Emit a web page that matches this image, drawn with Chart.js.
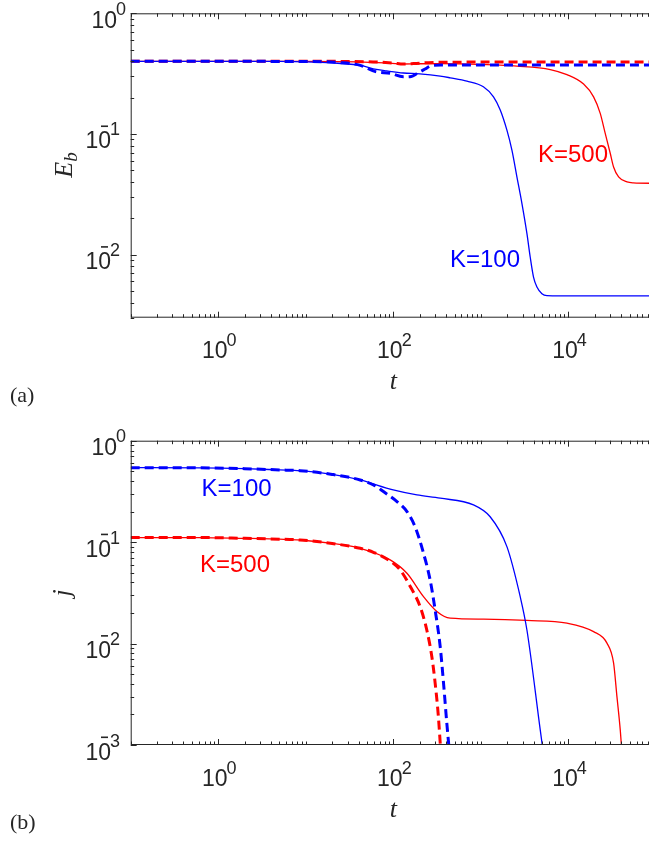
<!DOCTYPE html>
<html>
<head>
<meta charset="utf-8">
<script src="https://cdn.jsdelivr.net/npm/chart.js@4.4.1/dist/chart.umd.min.js"></script>
<style>
  html, body { margin: 0; padding: 0; background: #fff; overflow: hidden; }
  #wrap { position: relative; width: 649px; height: 842px; overflow: hidden; background: #fff; }
  canvas { position: absolute; left: 0; }
</style>
</head>
<body>
<div id="wrap">
  <canvas id="chartA" width="656" height="420" style="top:0px"></canvas>
  <canvas id="chartB" width="656" height="422" style="top:420px"></canvas>
</div>
<script>
// ---- panel (a): E_b vs t ----
var ebT_k100 = [0.1, 1, 5, 10, 20, 42, 64, 84, 130, 200, 343, 446, 692, 1067, 1393, 1663, 1982, 2261, 2578, 2943, 3357, 3657, 3990, 4365, 4977, 5680, 8000, 1e5];
var eb_k100  = [0.40, 0.40, 0.399, 0.396, 0.388, 0.37, 0.343, 0.333, 0.32, 0.315, 0.302, 0.292, 0.274, 0.246, 0.203, 0.158, 0.1075, 0.0734, 0.0441, 0.0265, 0.0149, 0.00955, 0.00652, 0.00538, 0.00474, 0.00457, 0.00455, 0.00455];
var ebT_k100d = [0.1, 10, 25, 42, 64, 92, 130, 160, 188, 230, 266, 350, 1000, 1e5];
var eb_k100d  = [0.40, 0.399, 0.39, 0.37, 0.327, 0.318, 0.298, 0.30, 0.318, 0.345, 0.366, 0.372, 0.372, 0.372];
var ebT_k500 = [0.1, 10, 40, 80, 130, 200, 350, 1067, 2578, 6200, 9610, 14890, 19370, 23070, 26300, 30060, 32760, 37390, 46650, 55000, 1e5];
var eb_k500  = [0.40, 0.40, 0.396, 0.388, 0.38, 0.382, 0.383, 0.376, 0.365, 0.342, 0.31, 0.259, 0.203, 0.148, 0.101, 0.0689, 0.0533, 0.0441, 0.040, 0.0393, 0.039];
var ebT_k500d = [0.1, 10, 50, 100, 130, 170, 250, 400, 1000, 1e5];
var eb_k500d  = [0.40, 0.40, 0.397, 0.387, 0.38, 0.383, 0.39, 0.393, 0.394, 0.394];

// ---- panel (b): j vs t ----
var jT_k100 = [0.1, 0.62, 2, 5, 8.6, 20, 41.8, 99.6, 186, 343, 823, 1276, 1982, 2812, 3355, 4766, 5500];
var j_k100  = [0.542, 0.54, 0.53, 0.515, 0.506, 0.465, 0.41, 0.327, 0.292, 0.271, 0.233, 0.178, 0.0903, 0.029, 0.0136, 0.0014, 0.00056];
var jT_k100d = [0.1, 0.62, 2, 5, 8.6, 20, 41.8, 60, 77, 110, 143, 177, 221, 263, 300, 343, 374, 408, 440];
var j_k100d  = [0.542, 0.54, 0.53, 0.515, 0.506, 0.465, 0.41, 0.365, 0.315, 0.251, 0.20, 0.142, 0.0778, 0.0424, 0.0215, 0.0093, 0.0041, 0.00164, 0.0008];
var jT_k500 = [0.1, 0.62, 2, 5, 8.6, 20, 41.8, 92, 143, 221, 314, 446, 1072, 3357, 9610, 19370, 27540, 32760, 35800, 39080, 41000];
var j_k500  = [0.111, 0.111, 0.109, 0.107, 0.105, 0.097, 0.087, 0.0668, 0.0493, 0.029, 0.0207, 0.0178, 0.0174, 0.0169, 0.0159, 0.0131, 0.0101, 0.00645, 0.003, 0.0014, 0.0008];
var jT_k500d = [0.1, 0.62, 2, 5, 8.6, 20, 41.8, 60, 92, 120, 156, 202, 241, 275, 300, 327, 350];
var j_k500d  = [0.111, 0.111, 0.109, 0.107, 0.105, 0.097, 0.087, 0.079, 0.065, 0.053, 0.0365, 0.0232, 0.0136, 0.00745, 0.0041, 0.0019, 0.0008];

var xMin = 0.1, xMax = 1e5;
var BLUE = '#0000ff', RED = '#ff0000', INK = '#262626';
var BASE_FONT = '23px "Liberation Sans", Arial, sans-serif';
var SUP_FONT = '18px "Liberation Sans", Arial, sans-serif';

function pts(ts, vs) {
  return ts.map(function (t, i) { return { x: t, y: vs[i] }; });
}

function solid(data, color) {
  return { data: data, borderColor: color, borderWidth: 1.3, pointRadius: 0,
           cubicInterpolationMode: 'monotone', fill: false };
}
function dashed(data, color) {
  return { data: data, borderColor: color, borderWidth: 3, borderDash: [9, 5],
           pointRadius: 0, cubicInterpolationMode: 'monotone', fill: false };
}

// "10" plus exponent; the minus sits over the top of the "0" like in the reference
function powLabel(ctx, exp, left, base, raise) {
  ctx.textAlign = 'left';
  ctx.textBaseline = 'alphabetic';
  ctx.font = BASE_FONT;
  var wb = ctx.measureText('10').width;
  ctx.fillText('10', left, base);
  ctx.font = SUP_FONT;
  var sb = base - raise;
  if (exp < 0) ctx.fillRect(left + wb - 10, sb - 10, 7, 1.6);
  ctx.fillText(String(Math.abs(exp)), left + wb - 1, sb);
}
function powWidth(ctx, exp) {
  ctx.font = BASE_FONT;
  var wb = ctx.measureText('10').width;
  ctx.font = SUP_FONT;
  return wb - 1 + ctx.measureText(String(Math.abs(exp))).width;
}

function framePlugin(cfg) {
  return {
    id: 'frame',
    afterDraw: function (chart) {
      var ctx = chart.ctx, a = chart.chartArea;
      var xs = chart.scales.x, ys = chart.scales.y;
      ctx.save();
      ctx.strokeStyle = INK;
      ctx.lineWidth = 1;
      ctx.strokeRect(a.left + 0.5, a.top + 0.5, a.right - a.left - 1, a.bottom - a.top - 1);

      ctx.beginPath();
      // x ticks (inward, top and bottom)
      for (var k = -1; k <= 5; k++) {
        for (var m = 1; m <= 9; m++) {
          var v = m * Math.pow(10, k);
          if (v < xMin || v > xMax) continue;
          var px = Math.round(xs.getPixelForValue(v)) + 0.5;
          var len = (m === 1 && k % 2 === 0) ? 6 : 3.5;
          ctx.moveTo(px, a.bottom); ctx.lineTo(px, a.bottom - len);
          ctx.moveTo(px, a.top); ctx.lineTo(px, a.top + len);
        }
      }
      // y ticks (inward, left and right)
      for (var k2 = -4; k2 <= 0; k2++) {
        for (var m2 = 1; m2 <= 9; m2++) {
          var v2 = m2 * Math.pow(10, k2);
          if (v2 < ys.min - 1e-12 || v2 > ys.max + 1e-12) continue;
          var py = Math.round(ys.getPixelForValue(v2)) + 0.5;
          var len2 = m2 === 1 ? 6 : 3.5;
          ctx.moveTo(a.left, py); ctx.lineTo(a.left + len2, py);
          ctx.moveTo(a.right, py); ctx.lineTo(a.right - len2, py);
        }
      }
      ctx.stroke();

      ctx.fillStyle = INK;
      // x tick labels
      cfg.xExps.forEach(function (e) {
        var px = xs.getPixelForValue(Math.pow(10, e));
        var w = powWidth(ctx, e);
        powLabel(ctx, e, px - w / 2 + 1, a.bottom + 40.5, 12);
      });
      // y tick labels
      cfg.yExps.forEach(function (e) {
        var py = ys.getPixelForValue(Math.pow(10, e));
        ctx.font = BASE_FONT;
        var wb = ctx.measureText('10').width;
        var end = e < 0 ? 111 : 117;
        powLabel(ctx, e, end - wb, py + 14.5, 13);
      });

      // axis titles
      ctx.font = 'italic 26px "Liberation Serif", "DejaVu Serif", serif';
      ctx.textAlign = 'center';
      ctx.textBaseline = 'middle';
      ctx.fillText('t', xs.getPixelForValue(100), cfg.tY);

      ctx.save();
      ctx.translate(63, cfg.yTitleY);
      ctx.rotate(-Math.PI / 2);
      if (cfg.yTitle === 'E') {
        ctx.font = 'italic 26px "Liberation Serif", "DejaVu Serif", serif';
        var we = ctx.measureText('E').width;
        ctx.font = 'italic 19px "Liberation Serif", "DejaVu Serif", serif';
        var wsub = ctx.measureText('b').width;
        var x0 = -(we + wsub) / 2;
        ctx.textAlign = 'left';
        ctx.textBaseline = 'alphabetic';
        ctx.font = 'italic 26px "Liberation Serif", "DejaVu Serif", serif';
        ctx.fillText('E', x0, 9);
        ctx.font = 'italic 19px "Liberation Serif", "DejaVu Serif", serif';
        ctx.fillText('b', x0 + we, 14);
      } else {
        ctx.fillText(cfg.yTitle, 0, 0);
      }
      ctx.restore();

      // panel tag
      ctx.font = '22px "Liberation Serif", "DejaVu Serif", serif';
      ctx.textAlign = 'left';
      ctx.textBaseline = 'middle';
      ctx.fillText(cfg.tag, 10, cfg.tagY);

      // curve labels
      ctx.font = '24px "Liberation Sans", Arial, sans-serif';
      cfg.notes.forEach(function (n) {
        ctx.fillStyle = n.color;
        ctx.fillText(n.text, n.x, n.y);
      });
      ctx.restore();
    }
  };
}

function makeChart(id, datasets, yMin, padding, cfg) {
  return new Chart(document.getElementById(id), {
    type: 'line',
    data: { datasets: datasets },
    options: {
      responsive: false,
      animation: false,
      events: [],
      layout: { padding: padding },
      plugins: { legend: { display: false }, tooltip: { enabled: false } },
      scales: {
        x: { type: 'logarithmic', min: xMin, max: xMax, display: false },
        y: { type: 'logarithmic', min: yMin, max: 1, display: false }
      }
    },
    plugins: [framePlugin(cfg)]
  });
}

makeChart('chartA', [
  dashed(pts(ebT_k100d, eb_k100d), BLUE),
  dashed(pts(ebT_k500d, eb_k500d), RED),
  solid(pts(ebT_k100, eb_k100), BLUE),
  solid(pts(ebT_k500, eb_k500), RED)
], 0.003, { left: 130.7, top: 13.3, right: 0, bottom: 102.3 }, {
  xExps: [0, 2, 4], yExps: [0, -1, -2],
  tY: 382, yTitle: 'E', yTitleY: 165, tag: '(a)', tagY: 396,
  notes: [
    { text: 'K=500', color: RED, x: 538, y: 155 },
    { text: 'K=100', color: BLUE, x: 450, y: 260 }
  ]
});

makeChart('chartB', [
  dashed(pts(jT_k100d, j_k100d), BLUE),
  dashed(pts(jT_k500d, j_k500d), RED),
  solid(pts(jT_k100, j_k100), BLUE),
  solid(pts(jT_k500, j_k500), RED)
], 0.001, { left: 130.7, top: 20.7, right: 0, bottom: 97 }, {
  xExps: [0, 2, 4], yExps: [0, -1, -2, -3],
  tY: 390, yTitle: 'j', yTitleY: 173, tag: '(b)', tagY: 403,
  notes: [
    { text: 'K=100', color: BLUE, x: 201.6, y: 69 },
    { text: 'K=500', color: RED, x: 200, y: 145 }
  ]
});
</script>
</body>
</html>
